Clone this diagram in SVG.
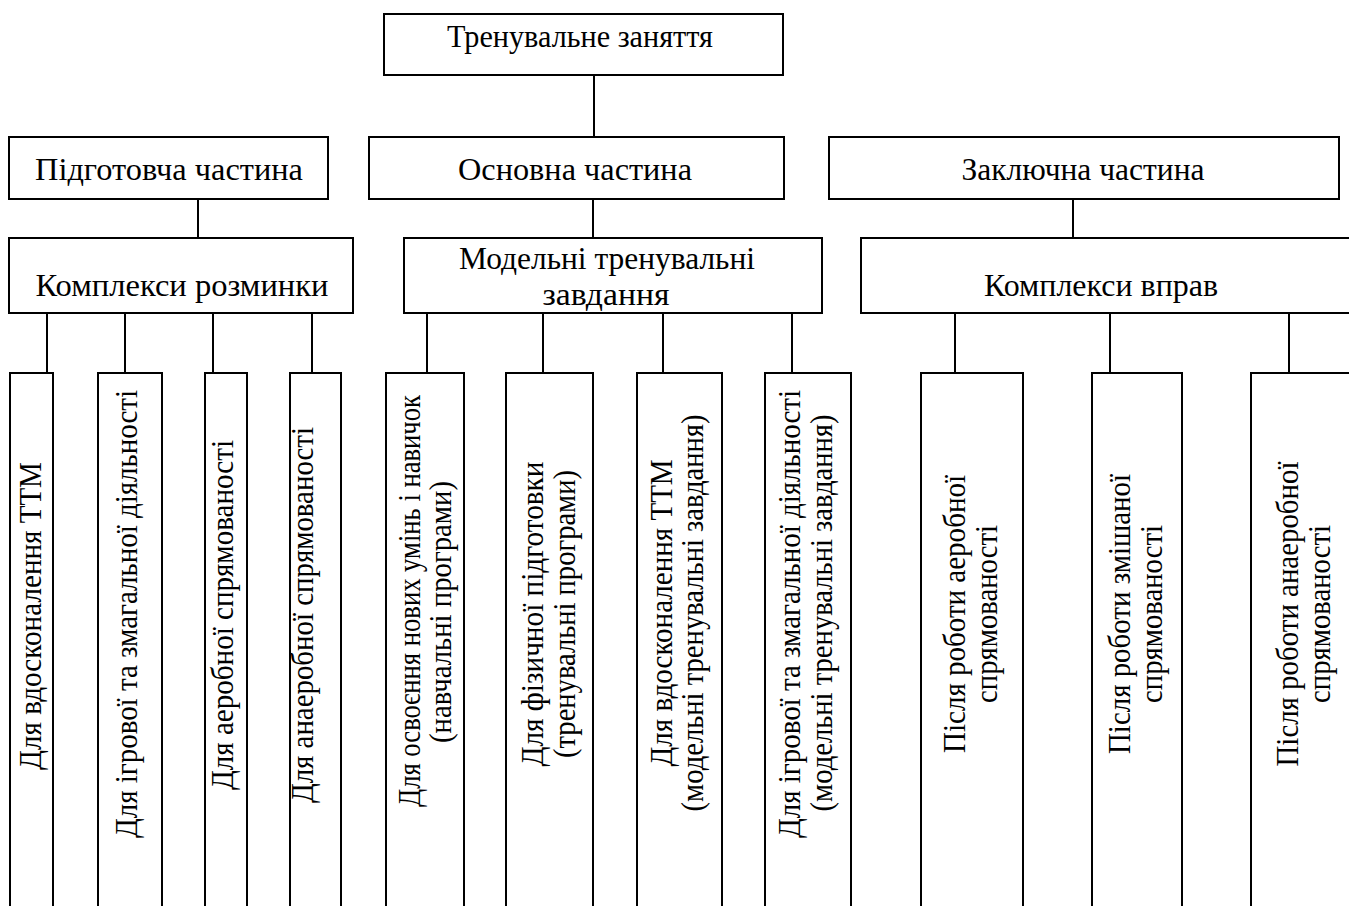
<svg xmlns="http://www.w3.org/2000/svg" width="1349" height="906" viewBox="0 0 1349 906">
<style>
rect{fill:#fff;stroke:#000;stroke-width:2}
line{stroke:#000;stroke-width:2}
text{font-family:"Liberation Serif","Times New Roman",serif;font-size:31px;fill:#000;text-anchor:middle}
</style>
<rect x="0" y="0" width="1349" height="906" style="stroke:none"/>
<g id="connectors">
<line x1="594" y1="75" x2="594" y2="137"/>
<line x1="198" y1="199" x2="198" y2="238"/>
<line x1="593" y1="199" x2="593" y2="238"/>
<line x1="1073" y1="199" x2="1073" y2="238"/>
<line x1="47" y1="313" x2="47" y2="373"/>
<line x1="125" y1="313" x2="125" y2="373"/>
<line x1="213" y1="313" x2="213" y2="373"/>
<line x1="312" y1="313" x2="312" y2="373"/>
<line x1="427" y1="313" x2="427" y2="373"/>
<line x1="543" y1="313" x2="543" y2="373"/>
<line x1="663" y1="313" x2="663" y2="373"/>
<line x1="792" y1="313" x2="792" y2="373"/>
<line x1="955" y1="313" x2="955" y2="373"/>
<line x1="1110" y1="313" x2="1110" y2="373"/>
<line x1="1289" y1="313" x2="1289" y2="373"/>
</g>
<g id="n-root"><rect x="384" y="14" width="399" height="61"/><text x="580" y="47" textLength="266" lengthAdjust="spacingAndGlyphs">Тренувальне заняття</text></g>
<g id="n-prep"><rect x="9" y="137" width="319" height="62"/><text x="169" y="180" textLength="268" lengthAdjust="spacingAndGlyphs">Підготовча частина</text></g>
<g id="n-main"><rect x="369" y="137" width="415" height="62"/><text x="575" y="180" textLength="234" lengthAdjust="spacingAndGlyphs">Основна частина</text></g>
<g id="n-final"><rect x="829" y="137" width="510" height="62"/><text x="1083" y="180" textLength="243" lengthAdjust="spacingAndGlyphs">Заключна частина</text></g>
<g id="n-warm"><rect x="9" y="238" width="344" height="75"/><text x="182" y="296" textLength="293" lengthAdjust="spacingAndGlyphs">Комплекси розминки</text></g>
<g id="n-model"><rect x="404" y="238" width="418" height="75"/><text x="607" y="269" textLength="296" lengthAdjust="spacingAndGlyphs">Модельні тренувальні</text><text x="606" y="305" textLength="127" lengthAdjust="spacingAndGlyphs">завдання</text></g>
<g id="n-ex"><rect x="861" y="238" width="500" height="75"/><text x="1101" y="296" textLength="234" lengthAdjust="spacingAndGlyphs">Комплекси вправ</text></g>
<g id="n-v1"><rect x="10" y="373" width="43" height="545"/><text transform="translate(41,616) rotate(-90)" textLength="308" lengthAdjust="spacingAndGlyphs">Для вдосконалення ТТМ</text></g>
<g id="n-v2"><rect x="98" y="373" width="64" height="545"/><text transform="translate(137,614) rotate(-90)" textLength="448" lengthAdjust="spacingAndGlyphs">Для ігрової та змагальної діяльності</text></g>
<g id="n-v3"><rect x="205" y="373" width="42" height="545"/><text transform="translate(233,615) rotate(-90)" textLength="350" lengthAdjust="spacingAndGlyphs">Для аеробної спрямованості</text></g>
<g id="n-v4"><rect x="290" y="373" width="51" height="545"/><text transform="translate(313,615) rotate(-90)" textLength="376" lengthAdjust="spacingAndGlyphs">Для анаеробної спрямованості</text></g>
<g id="n-v5"><rect x="386" y="373" width="78" height="545"/><text transform="translate(420,601) rotate(-90)" textLength="412" lengthAdjust="spacingAndGlyphs">Для освоєння нових умінь і навичок</text><text transform="translate(451,612) rotate(-90)" textLength="262" lengthAdjust="spacingAndGlyphs">(навчальні програми)</text></g>
<g id="n-v6"><rect x="506" y="373" width="87" height="545"/><text transform="translate(543,614) rotate(-90)" textLength="305" lengthAdjust="spacingAndGlyphs">Для фізичної підготовки</text><text transform="translate(575,614) rotate(-90)" textLength="288" lengthAdjust="spacingAndGlyphs">(тренувальні програми)</text></g>
<g id="n-v7"><rect x="637" y="373" width="85" height="545"/><text transform="translate(672,613) rotate(-90)" textLength="307" lengthAdjust="spacingAndGlyphs">Для вдосконалення ТТМ</text><text transform="translate(703,613) rotate(-90)" textLength="397" lengthAdjust="spacingAndGlyphs">(модельні тренувальні завдання)</text></g>
<g id="n-v8"><rect x="765" y="373" width="86" height="545"/><text transform="translate(800,614) rotate(-90)" textLength="448" lengthAdjust="spacingAndGlyphs">Для ігрової та змагальної діяльності</text><text transform="translate(832,613) rotate(-90)" textLength="397" lengthAdjust="spacingAndGlyphs">(модельні тренувальні завдання)</text></g>
<g id="n-v9"><rect x="921" y="373" width="102" height="545"/><text transform="translate(965,614) rotate(-90)" textLength="278" lengthAdjust="spacingAndGlyphs">Після роботи аеробної</text><text transform="translate(997,614) rotate(-90)" textLength="178" lengthAdjust="spacingAndGlyphs">спрямованості</text></g>
<g id="n-v10"><rect x="1092" y="373" width="90" height="545"/><text transform="translate(1130,614) rotate(-90)" textLength="280" lengthAdjust="spacingAndGlyphs">Після роботи змішаної</text><text transform="translate(1162,614) rotate(-90)" textLength="178" lengthAdjust="spacingAndGlyphs">спрямованості</text></g>
<g id="n-v11"><rect x="1251" y="373" width="110" height="545"/><text transform="translate(1298,614) rotate(-90)" textLength="305" lengthAdjust="spacingAndGlyphs">Після роботи анаеробної</text><text transform="translate(1330,614) rotate(-90)" textLength="178" lengthAdjust="spacingAndGlyphs">спрямованості</text></g>
</svg>
